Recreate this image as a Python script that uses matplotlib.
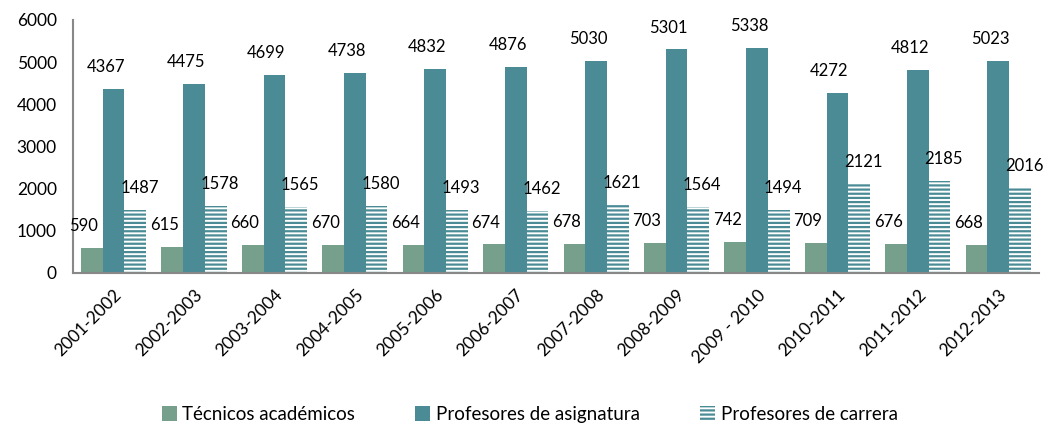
import matplotlib

matplotlib.use("Agg")

import matplotlib.pyplot as plt  # noqa: E402
import numpy as np  # noqa: E402

plt.rcParams["font.family"] = ["Lato", "DejaVu Sans"]
plt.rcParams["hatch.linewidth"] = 1.6

# Staff counts per school year
periodos = ["2001-2002", "2002-2003", "2003-2004", "2004-2005", "2005-2006",
            "2006-2007", "2007-2008", "2008-2009", "2009 - 2010", "2010-2011",
            "2011-2012", "2012-2013"]
tecnicos = [590, 615, 660, 670, 664, 674, 678, 703, 742, 709, 676, 668]
asignatura = [4367, 4475, 4699, 4738, 4832, 4876, 5030, 5301, 5338, 4272, 4812, 5023]
carrera = [1487, 1578, 1565, 1580, 1493, 1462, 1621, 1564, 1494, 2121, 2185, 2016]

GREEN = "#769f8c"
TEAL = "#4a8b96"

fig = plt.figure(figsize=(10.49, 4.25), dpi=100)
ax = fig.add_axes([0.07, 0.358, 0.92, 0.595])

x = np.arange(len(periodos))
w = 0.27

b1 = ax.bar(x - w, tecnicos, w, color=GREEN, label="Técnicos académicos")
b2 = ax.bar(x, asignatura, w, color=TEAL, label="Profesores de asignatura")
b3 = ax.bar(x + w, carrera, w, color="white", edgecolor=TEAL, hatch="----",
            linewidth=0, label="Profesores de carrera")

for bars, dx in ((b1, -0.1), (b2, -0.1), (b3, 0.05)):
    for rect in bars:
        h = rect.get_height()
        ax.annotate(f"{h:.0f}", (rect.get_x() + rect.get_width() / 2 + dx, h),
                    xytext=(0, 10), textcoords="offset points",
                    ha="center", va="bottom", fontsize=12)

ax.set_ylim(0, 6000)
ax.set_yticks(range(0, 6001, 1000))
ax.set_xlim(-0.5, len(periodos) - 0.5)
ax.set_xticks(x)
ax.set_xticklabels(periodos, rotation=45, ha="right", rotation_mode="anchor",
                   fontsize=12.5)
ax.tick_params(axis="both", length=0)
ax.tick_params(axis="y", labelsize=12.5, pad=12)
ax.tick_params(axis="x", pad=10)

for side in ("top", "right"):
    ax.spines[side].set_visible(False)
for side in ("left", "bottom"):
    ax.spines[side].set_color("#888888")
    ax.spines[side].set_linewidth(1.5)

fig.legend(handles=[b1, b2, b3], loc="lower center", ncol=3, frameon=False,
           fontsize=13.5, bbox_to_anchor=(0.505, -0.035), handlelength=0.8,
           handleheight=0.8, handletextpad=0.3, columnspacing=3.2)

fig.savefig("out.png", dpi=100)
